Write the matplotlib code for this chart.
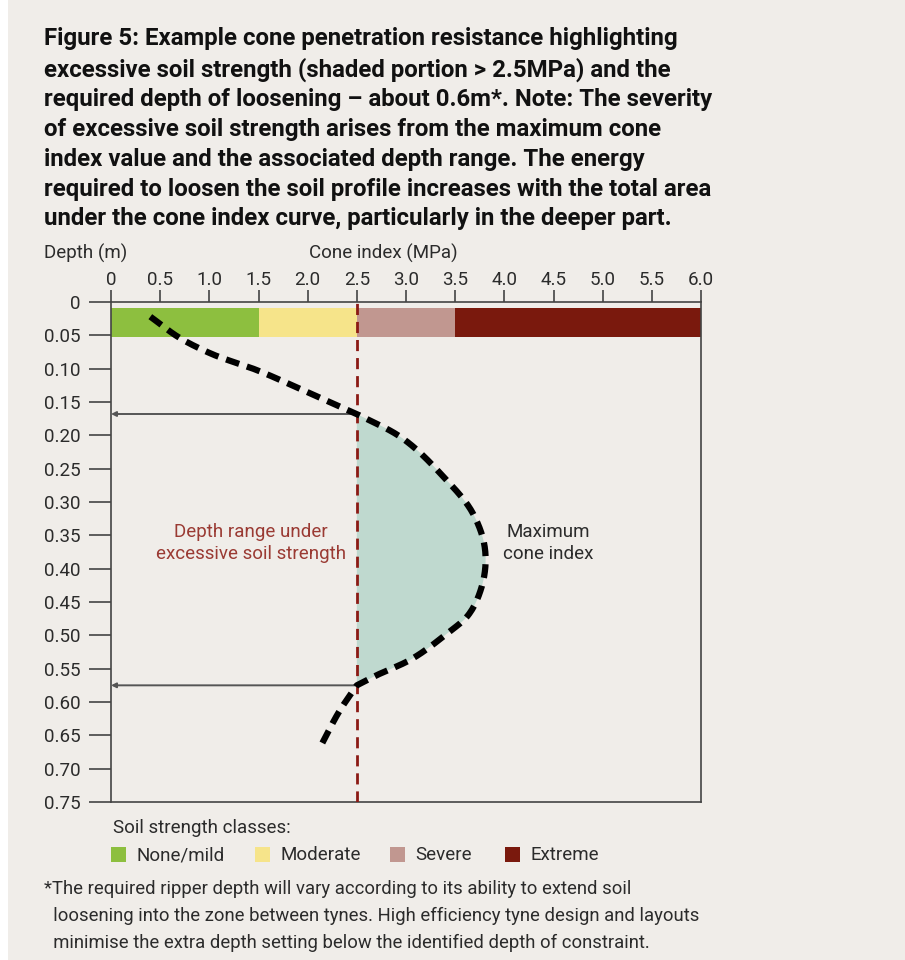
import numpy as np
import matplotlib.pyplot as plt
from matplotlib.patches import Rectangle

# cone index profile (MPa) vs depth (m)
depth = [0.022, 0.054, 0.077, 0.102, 0.132, 0.168, 0.202, 0.262, 0.317, 0.367,
         0.427, 0.472, 0.497, 0.537, 0.560, 0.575, 0.612, 0.667]
cone = [0.40, 0.70, 1.01, 1.48, 1.95, 2.50, 2.94, 3.38, 3.68, 3.80,
        3.77, 3.62, 3.42, 3.04, 2.70, 2.50, 2.33, 2.13]

# soil strength classes along the top band
class_names = ['None/mild', 'Moderate', 'Severe', 'Extreme']
class_edges = [0, 1.5, 2.5, 3.5, 6.0]
class_colors = ['#8dbf3f', '#f6e48a', '#c19790', '#7a190d']

threshold = 2.5
top_depth = 0.168
bottom_depth = 0.575

xticks = [0, 0.5, 1.0, 1.5, 2.0, 2.5, 3.0, 3.5, 4.0, 4.5, 5.0, 5.5, 6.0]
xtick_labels = ['0', '0.5', '1.0', '1.5', '2.0', '2.5', '3.0', '3.5', '4.0', '4.5', '5.0', '5.5', '6.0']
yticks = [0, 0.05, 0.10, 0.15, 0.20, 0.25, 0.30, 0.35, 0.40, 0.45, 0.50, 0.55, 0.60, 0.65, 0.70, 0.75]
ytick_labels = ['0', '0.05', '0.10', '0.15', '0.20', '0.25', '0.30', '0.35', '0.40', '0.45',
                '0.50', '0.55', '0.60', '0.65', '0.70', '0.75']

title = ('Figure 5: Example cone penetration resistance highlighting\n'
         'excessive soil strength (shaded portion > 2.5MPa) and the\n'
         'required depth of loosening \u2013 about 0.6m*. Note: The severity\n'
         'of excessive soil strength arises from the maximum cone\n'
         'index value and the associated depth range. The energy\n'
         'required to loosen the soil profile increases with the total area\n'
         'under the cone index curve, particularly in the deeper part.')
footnote = ['*The required ripper depth will vary according to its ability to extend soil',
            '  loosening into the zone between tynes. High efficiency tyne design and layouts',
            '  minimise the extra depth setting below the identified depth of constraint.']

bg = '#f0ede9'
txt = '#2b2b2b'
plt.rcParams['font.family'] = ['Roboto', 'DejaVu Sans']
fs = 13.5

W, H = 905, 960
fig = plt.figure(figsize=(W / 100, H / 100), dpi=100, facecolor='white')
fig.patches.append(Rectangle((8 / W, 0), 1, 1, transform=fig.transFigure,
                             facecolor=bg, edgecolor='none', zorder=-10))

ax = fig.add_axes([111 / W, 1 - 802 / H, 590 / W, 500 / H])
ax.set_facecolor(bg)
ax.set_xlim(0, 6)
ax.set_ylim(0.75, 0)

# class band
for i, name in enumerate(class_names):
    ax.add_patch(Rectangle((class_edges[i], 0.009), class_edges[i + 1] - class_edges[i], 0.044,
                           facecolor=class_colors[i], edgecolor='none', zorder=1))


def hermite(x, t, tt):
    m = np.gradient(x, t)
    out = np.empty_like(tt)
    for k, v in enumerate(tt):
        i = min(np.searchsorted(t, v, side='right') - 1, len(t) - 2)
        h = t[i + 1] - t[i]
        s = (v - t[i]) / h
        out[k] = ((2 * s**3 - 3 * s**2 + 1) * x[i] + (s**3 - 2 * s**2 + s) * h * m[i]
                  + (-2 * s**3 + 3 * s**2) * x[i + 1] + (s**3 - s**2) * h * m[i + 1])
    return out


# smooth each piece separately; the curve has small corners where it crosses 2.5
d = np.array(depth)
c = np.array(cone)
cut = [0, depth.index(top_depth), depth.index(bottom_depth), len(depth) - 1]
cs_parts, ds_parts = [], []
for a, b in zip(cut[:-1], cut[1:]):
    cc, dd = c[a:b + 1], d[a:b + 1]
    t = np.concatenate([[0], np.cumsum(np.hypot(np.diff(cc) / 6, np.diff(dd) / 0.75))])
    tt = np.linspace(0, t[-1], 150)
    cs_parts.append(hermite(cc, t, tt))
    ds_parts.append(hermite(dd, t, tt))
cs = np.concatenate(cs_parts)
ds = np.concatenate(ds_parts)

# shaded region above threshold
ax.fill_betweenx(ds_parts[1], threshold, np.maximum(cs_parts[1], threshold),
                 facecolor='#bfd9cf', edgecolor='none', zorder=1)

ax.plot(cs, ds, color='black', lw=4.5, ls=(0, (2.2, 1.3)), zorder=4)

ax.axvline(threshold, color='#8b1a14', lw=2, ls=(0, (4, 2.5)), zorder=3)

for yd in [top_depth, bottom_depth]:
    ax.annotate('', xy=(0.0, yd), xytext=(threshold, yd),
                arrowprops=dict(arrowstyle='-|>', color='#555555', lw=1.4,
                                mutation_scale=7, shrinkA=0, shrinkB=0), zorder=2)

ax.text(1.42, 0.362, 'Depth range under\nexcessive soil strength', color='#9a3a33',
        fontsize=fs, ha='center', va='center', linespacing=1.3)
ax.text(4.45, 0.362, 'Maximum\ncone index', color=txt,
        fontsize=fs, ha='center', va='center', linespacing=1.3)

ax.xaxis.tick_top()
ax.set_xticks(xticks)
ax.set_xticklabels(xtick_labels)
ax.set_yticks(yticks)
ax.set_yticklabels(ytick_labels)
ax.tick_params(axis='both', colors='#444444', labelcolor=txt, labelsize=fs, width=1.2)
ax.tick_params(axis='x', length=9, pad=0.5)
ax.tick_params(axis='y', length=16, pad=6)
for s in ax.spines.values():
    s.set_color('#444444')
    s.set_linewidth(1.2)

fig.text(44 / W, 1 - 27 / H, title, fontsize=17.3, fontweight='bold', color='#111111',
         ha='left', va='top', linespacing=1.375)
fig.text(44 / W, 1 - 253 / H, 'Depth (m)', fontsize=fs, color=txt, ha='left', va='center')
fig.text(383 / W, 1 - 253 / H, 'Cone index (MPa)', fontsize=fs, color=txt, ha='center', va='center')

fig.text(113 / W, 1 - 828 / H, 'Soil strength classes:', fontsize=fs, color=txt, ha='left', va='center')
sq_x = [111, 255, 390, 505]
for name, col, x0 in zip(class_names, class_colors, sq_x):
    fig.patches.append(Rectangle((x0 / W, 1 - 862 / H), 15 / W, 15 / H, transform=fig.transFigure,
                                 facecolor=col, edgecolor='none'))
    fig.text((x0 + 25) / W, 1 - 855 / H, name, fontsize=fs, color=txt, ha='left', va='center')

for k, line in enumerate(footnote):
    fig.text(44 / W, 1 - (889 + 27 * k) / H, line, fontsize=13.3, color=txt, ha='left', va='center')

fig.savefig('out.png', dpi=100, facecolor='white')
